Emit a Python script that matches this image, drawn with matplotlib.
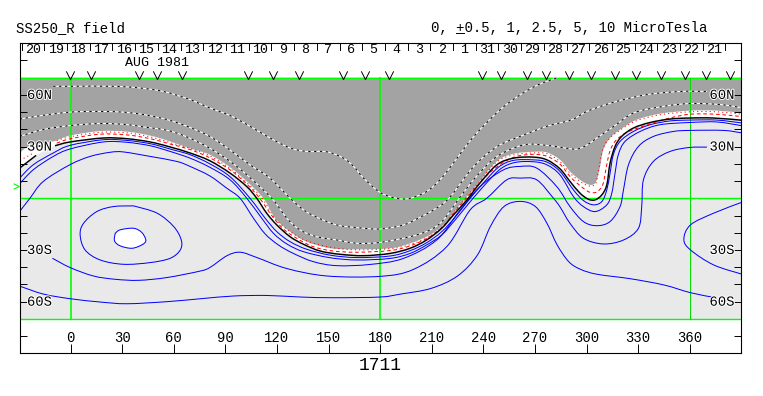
import numpy as np
import matplotlib
matplotlib.use("Agg")
import matplotlib.pyplot as plt
import matplotlib.patheffects as pe
from matplotlib.path import Path
from matplotlib.patches import PathPatch
from matplotlib.lines import Line2D

plt.rcParams['lines.scale_dashes'] = False
nan = float('nan')

# ---- data (longitude, latitude in degrees) ----
title_left = "SS250_R field"
title_right = "0, +0.5, 1, 2.5, 5, 10 MicroTesla"
rotation = "1711"
month = "AUG 1981"

day_labels = ["20","19","18","17","16","15","14","13","12","11","10","9","8","7","6","5",
              "4","3","2","1","31","30","29","28","27","26","25","24","23","22","21"]
day_ticks = [-28.4,-15.2,-2,11.2,24.4,37.6,50.8,64,77.2,90.4,103.6,116.8,130,143.2,156.4,169.6,
             182.8,196,209.2,222.4,235.6,248.8,262,275.2,288.4,301.6,314.8,328,341.2,354.4,367.6,380.8]
lon_ticks = [0,30,60,90,120,150,180,210,240,270,300,330,360]
lat_ticks = [-80,-70,-60,-50,-40,-30,-20,-10,10,20,30,40,50,60,70,80]
lat_labels = {60:"60N", 30:"30N", -30:"30S", -60:"60S"}
sat_lons = [-0.1,11.7,39.7,50.5,64.7,103.4,117.9,132.7,158.6,171,185.3,239,250,265.2,276.5,
            290,302.8,316.7,328.6,343.2,357.3,369.3,383.4]
tilt_lat = 6.9

# gray-region edge
g_lon = [-29.6,-23.6,-10,-0.3,17.2,32.7,46.3,57.9,69.5,81,92.8,102.5,112.2,119,127.7,137.4,151,166.5,186,197.4,209,217.8,225.5,236.2,247.8,257.5,269.2,277,284.7,291.4,300,305,307.5,309.8,313.7,319.5,329.2,342.8,360.3,375.8,390.5]
g_lat = [26.3,30.5,33,36.4,39,38.7,36.4,33,29,25.3,18,9.8,0,-11.6,-19.4,-25.2,-29,-29.6,-29,-26.2,-21.3,-14.5,-4.8,7.8,21.4,25.8,27,26.6,22.3,14.6,8.4,8.8,16.5,28.2,35,39.8,45.6,49.1,50.9,50.9,49.5]

# neutral line
k_lon = [-29.6,-20,nan,-9,-0.3,19.1,32.7,46.3,57.9,69.5,81,92.8,102.5,108.3,114.1,120,127.7,135.5,145.2,156.8,170.4,185.7,197.4,207,215.8,222.6,230.4,238,247.8,257.5,269,277,284.6,290.4,296.2,301,305,308.9,311.8,313.7,316.6,320.5,327.3,337,348.6,360.3,373.8,390.5]
k_lat = [17.5,24.9,nan,30.5,32.7,35,34.6,32.7,29.8,26.3,21.8,14.6,6.8,0,-8.7,-15.5,-22.3,-26.7,-30.6,-32.5,-33.3,-32,-29,-24.2,-17.4,-9.7,-1,8.8,19.4,23.3,23.9,22.3,17.1,9.8,3,-0.5,-0.9,2,7.8,20.4,30.1,36,40.8,44,46,46.6,46.6,45.3]

# red contours
rd_lon = [-8,-0.3,17,32.7,46.3,57.9,69.5,81,92.8,102.5,110,117,124,132,141,152,166,186,197.4,208,216.8,224,233,243,252,260,269,277,284.6,291,298,302,306,309.5,311.5,313.5,317,324,335,348,360.3,375,390.5]
rd_lat = [32,34.5,37.2,36.8,34.6,31.5,28.3,23.5,16.5,8.3,0,-10,-18,-23.5,-28,-30.5,-31.3,-30.3,-27.6,-22.8,-16,-7.3,3.5,14.2,21,24.5,25.5,24.4,19.8,12,6,3.5,3.7,8,18,27,33.5,38.5,42.5,46.5,48.8,48.8,47.4]
rp_lon = [-29.4,-21,nan,-8,-0.3,17.2,32.7,46.3,57.9,69.5,81,92.8,102.5,111.5,118.5,127,137,151,166,186,197.4,209,217.5,225,235.7,247.3,257.5,269,277,284.6,291,299.5,305,307,309.2,313,319,329,342.8,360.3,375.8,390.5]
rp_lat = [22,26.5,nan,33.5,35.7,38.3,38,35.7,32.3,29,24.6,17.3,9,0,-11.2,-18.8,-24.6,-28.4,-29.9,-29.2,-26.9,-22,-15.2,-5.4,7.2,20.7,25.2,26.3,25.9,21.3,14,7.8,8,16,27.6,34.4,39.2,45,48.5,50.2,50.2,48.8]

# dotted contours over the gray region
d1_lon = [-10,0,25,40.5,54,69.5,81,92.8,104.4,116,127.7,137.4,149,158.7,164.6,170.4,180,189.6,197.4,207,214.8,222.6,230.4,238,250,259.7,271,283]
d1_lat = [65,65,65,64,62,57.3,52.4,48,41.8,35,29.2,27.2,27,23.3,18.5,11.7,3.4,0,0,3.9,10.7,20.4,31,39.8,51.6,58.9,65.5,70]
d2_lon = [-29.4,-15.8,-0.3,13.4,29,42.5,56,67.7,81,92.8,104.4,116,127.7,135.5,143.2,154.9,166.5,180,193.5,203.2,211,220,234.5,248,261.6,277,291.7,300.4,316,335.3,354.7,370]
d2_lat = [46,48.2,50,50.4,50.1,48.6,45.7,41.8,35.9,28,19.4,11.7,0,-6.7,-11,-15.5,-17,-17.8,-15.5,-11,-6.8,0,18.5,30,36,41.8,45.7,50.5,55.8,60.2,62,62]
d3_lon = [-29.4,-15.8,-0.3,17.2,32.7,42.5,56,67.7,81,92.8,102.5,117,125.8,133.5,143.2,154.9,166.5,180,197.4,209,216.8,226,236,248,263.5,277,288.8,294.7,300.4,306,316,327.6,345,360.5,378,390.6]
d3_lat = [36,39.9,42.2,43.4,42.8,41.4,39.5,35.6,29.1,21.4,13.6,0,-11.6,-18.4,-22.3,-24.2,-26.1,-25.6,-22.3,-18.4,-12.6,0,12.7,24.3,31,30.7,29,28.6,31,35,41.8,49.6,53.4,55,54.4,52.5]

# blue contours
a_lon = [-29.6,-21.6,-10,-0.3,19.1,32.7,46.3,57.9,69.5,81,92.8,104.4,113.2,120,127.7,137.4,151,166.5,185.7,197.4,207,215.8,223.6,231.3,239.1,248.8,257.5,269.2,277,284.6,292.4,298.2,304,308.9,311.8,313.7,315.6,319.5,327.3,337,348.6,360.3,375.8,390.5]
a_lat = [11.7,19.5,26.3,30.7,34,33.6,31.7,28.6,25.3,20,12.5,0,-11.6,-19.4,-25.2,-29.6,-33,-34.4,-33.5,-30.4,-25.8,-19.4,-11,-1.3,7.8,18,22,22.3,21,15.6,4.9,-1.3,-3.8,-1.9,4.9,14.6,25.3,33,38.8,42.7,44.9,45.4,45.4,43.7]
b_lon = [-29.6,-21.6,-10,-0.3,19.1,32.7,46.3,57.9,69.5,81,92.8,102.5,111.2,118,125.8,135.5,151,166.5,185.7,197.4,207,215.8,223.6,231.3,240,249.8,258.5,269.2,277,284.6,292.4,298.2,305,311.8,314.7,316.6,318.5,322.4,331.2,342.8,360.3,375.8,390.5]
b_lat = [8.4,16.6,24.3,28.6,32.7,32.5,30.5,27.2,23.3,18,10.7,0,-11.6,-20.3,-26.5,-31,-34.5,-35.8,-34.9,-32,-27.1,-21.3,-12.6,-3.3,6.8,16.9,20.8,21.2,19.4,13.6,1,-4.8,-7.7,-3.8,3,14.6,25.3,33,38.8,42.7,44,44.3,42.1]
c_lon = [-29.6,-23.6,-15.8,-0.3,11.4,23,30.8,46.3,61.8,69.5,81,90.8,98.6,106.4,113.2,120.9,129.6,141.3,154.9,174,193.5,212.9,226.5,238.1,251.7,261.4,271.1,282.7,290.4,298.2,306,313.7,319.5,321.5,324.4,330.2,338.9,350.6,360.3,379.7,390.5]
c_lat = [-7.7,0,9.8,19.5,24.3,26.7,26.9,24.3,21.4,18.5,13,5.9,0,-11.6,-20.7,-27.1,-32,-36.8,-39.1,-38.4,-34.9,-24.2,-6.8,6.8,16.5,18.5,17.5,6.8,-4.8,-13.5,-15.9,-13.5,-4.8,4.9,19.4,30.1,35.9,38.8,39.4,39.4,37.9]
d_lon = [-10.5,0,13.4,26,39.6,56,75.5,81.3,91,98.7,108.4,125.9,149.2,180,199.3,218.7,232.3,242,253.6,261.4,271.1,280.8,284.6,290.4,298.2,309.8,321.5,330.2,332.1,333.1,338.9,348.6,359.9,370]
d_lat = [-34.8,-40.3,-45.1,-47,-47.6,-46,-42.2,-40,-33.3,-31.3,-34.4,-40.8,-45.1,-45.3,-41.3,-28.1,-6.8,0,10.7,11.7,10.7,0,-5,-14.5,-23.2,-26.5,-24.2,-17.4,-4.8,10.7,21.4,27.2,29.5,29.7]
e_lon = [-29.7,-15.7,0,17.3,32.8,56,75.5,94.9,114.3,133.7,153,180,191.8,209.6,225,236.6,244.1,252,261.6,270.3,277,282.9,289.7,296.5,306.2,325.6,345,360.5,374]
e_lat = [-50.9,-55.6,-58.3,-60.2,-61.2,-60,-58.3,-56.7,-56.4,-57.3,-57.7,-57.3,-55.6,-52.3,-45.1,-32.9,-16.4,-4.8,-1.8,-4.8,-14.5,-27,-36.8,-41.2,-44.1,-46.7,-50.3,-54.8,-57.5]
loop_lon = [36.7,25,15.3,7.6,5.6,8.5,17.3,30.8,46.4,58,63.8,64.4,60,50.3,36.7]
loop_lat = [-4.4,-4.8,-7.7,-14.5,-21.2,-30,-35.8,-38.3,-37.3,-34.8,-30,-24.2,-16.4,-8.6,-4.4]
core_lon = [26,28.9,36.7,41.5,43.8,41.5,35.7,28.9,25.6,26]
core_lat = [-20.3,-18.3,-17.4,-19.9,-24.5,-27,-29,-27.6,-24.7,-20.3]
rl_lon = [390.6,374,360.5,356.6,360.5,374,390.6]
rl_lat = [-2.2,-8.6,-15.4,-23.8,-30,-38.7,-44.1]

GREEN = "#00FF00"
MONO = "Liberation Mono"
W, H = 763, 396
fig = plt.figure(figsize=(W/100, H/100), dpi=100, facecolor="white")
L, R, T, B = 19.5, 741, 43, 353
ax = fig.add_axes([L/W, 1-B/H, (R-L)/W, (B-T)/H], facecolor="white")
ax.set_xlim((L-70.5)/1.72, (R-70.5)/1.72)
ax.set_ylim((198.3-B)/1.723, (198.3-T)/1.723)
xlo, xhi = ax.get_xlim()


def smooth_path(xs, ys, close=None):
    """Bezier path running through every read point (splits at nan)."""
    verts, codes = [], []
    segs, cur = [], []
    for x, y in zip(xs, ys):
        if x != x:
            if cur:
                segs.append(cur)
            cur = []
        else:
            cur.append((x, y))
    if cur:
        segs.append(cur)
    for s in segs:
        p = np.array(s, float)
        n = len(p)
        verts.append(p[0]); codes.append(Path.MOVETO)
        for i in range(n - 1):
            p0 = p[i - 1] if i > 0 else p[i]
            p3 = p[i + 2] if i + 2 < n else p[i + 1]
            c1 = p[i] + (p[i + 1] - p0) / 6
            c2 = p[i + 1] - (p3 - p[i]) / 6
            verts += [c1, c2, p[i + 1]]
            codes += [Path.CURVE4] * 3
    if close is not None:
        for c in close:
            verts.append(np.array(c, float)); codes.append(Path.LINETO)
        verts.append(verts[0]); codes.append(Path.CLOSEPOLY)
    return Path(np.array(verts), codes)


def curve(xs, ys, color, lw=0.72, z=3, ls="-"):
    patch = PathPatch(smooth_path(xs, ys), fill=False, edgecolor=color, lw=lw, zorder=z,
                      linestyle=ls, antialiased=True, capstyle="butt")
    ax.add_patch(patch)
    patch.set_clip_path(ax.patch)


# fills
ax.fill([xlo, xhi, xhi, xlo], [-70, -70, 70, 70], color="#E9E9E9", lw=0, zorder=1)
k_x = [x for x in k_lon if x == x]
k_y = [y for y in k_lat if y == y]
ax.add_patch(PathPatch(smooth_path(k_x, k_y, close=[(xhi, 70), (xlo, 70)]), facecolor="white", edgecolor="none", lw=0, zorder=1.1))
ax.add_patch(PathPatch(smooth_path(g_lon, g_lat, close=[(xhi, 70), (xlo, 70)]), facecolor="#A3A3A3", edgecolor="none", lw=0, zorder=1.2))
ax.add_patch(PathPatch(smooth_path(core_lon, core_lat, close=[]), facecolor="white", edgecolor="none", lw=0, zorder=1.3))

# green grid
for y in [-70, 0, 70]:
    ax.plot([xlo, xhi], [y, y], color=GREEN, lw=1.0, zorder=2)
for x, lw, c in [(0, 1.2, GREEN), (180, 1.2, GREEN), (360, 0.72, "#00E000")]:
    ax.plot([x, x], [-70, 70], color=c, lw=lw, zorder=2)

# blue lines
for xs, ys in [(a_lon, a_lat), (b_lon, b_lat), (c_lon, c_lat), (d_lon, d_lat), (e_lon, e_lat),
               (loop_lon, loop_lat), (core_lon, core_lat), (rl_lon, rl_lat)]:
    curve(xs, ys, "#0000FF")

# dotted white/black lines
for xs, ys in [(d1_lon, d1_lat), (d2_lon, d2_lat), (d3_lon, d3_lat)]:
    curve(xs, ys, "white", z=3, lw=0.72)
    curve(xs, ys, "black", z=3.1, ls=(0, (1.6, 2.6)), lw=0.72)

# red lines
curve(rd_lon, rd_lat, "#FF0000", z=3.2, ls=(0, (2.6, 2)))
curve(rp_lon, rp_lat, "#FF0000", z=3.2, ls=(0, (0.8, 2.2)))
# neutral line
curve(k_lon, k_lat, "black", lw=1.05, z=3.4)

# frame and ticks
for s in ax.spines.values():
    s.set_linewidth(0.8)
    s.set_zorder(6)
ax.set_xticks(lon_ticks)
ax.set_xticklabels([])
ax.set_yticks(lat_ticks)
ax.set_yticklabels([])
ax.tick_params(axis="x", direction="in", length=6.5, width=0.7, bottom=True, top=False)
ax.tick_params(axis="y", direction="in", length=5, width=0.7, left=True, right=True)
for t in ax.yaxis.get_major_ticks() + ax.xaxis.get_major_ticks():
    t.tick1line.set_zorder(5)
    t.tick2line.set_zorder(5)

for x in day_ticks:
    ax.plot([x, x], [90.1, 86.3], color="black", lw=0.7, zorder=5, clip_on=False)
for i, lab in enumerate(day_labels):
    ax.text((day_ticks[i]+day_ticks[i+1])/2, 85.9, lab, ha="center", va="center", family=MONO, fontsize=9.6, zorder=7)

# satellite marks
v = Path([(-1, 1), (0, -1), (1, 1)], [Path.MOVETO, Path.LINETO, Path.LINETO])
ax.plot(sat_lons, [71.5]*len(sat_lons), linestyle="none", marker=v, ms=6, mfc="none", mec="black", mew=0.7, zorder=5, clip_on=False)
gt = Path([(-1, 1), (1, 0), (-1, -1)], [Path.MOVETO, Path.LINETO, Path.LINETO])
ax.plot([-31.4], [tilt_lat], linestyle="none", marker=gt, ms=4, mfc="none", mec=GREEN, mew=0.8, zorder=5, clip_on=False)

# axis labels
stroke = [pe.withStroke(linewidth=1.4, foreground="white")]
for x in lon_ticks:
    ax.text(x, -81.2, str(x), ha="center", va="center", family=MONO, fontsize=10, zorder=7)
for lat, lab in lat_labels.items():
    ax.text(-18.0, lat, lab, ha="center", va="center", family=MONO, fontsize=10, zorder=7, path_effects=stroke)
    ax.text(378.8, lat, lab, ha="center", va="center", family=MONO, fontsize=10, zorder=7, path_effects=stroke)

# titles
fig.text(16/W, 1-28/H, title_left, ha="left", va="center", family=MONO, fontsize=10.1)
fig.text(431/W, 1-28/H, title_right, ha="left", va="center", family=MONO, fontsize=10.1)
fig.add_artist(Line2D([456/W, 464/W], [1-33/H, 1-33/H], color="black", lw=0.7))
fig.text(157/W, 1-62.5/H, month, ha="center", va="center", family=MONO, fontsize=9.6)
fig.text(380/W, 1-366/H, rotation, ha="center", va="center", family=MONO, fontsize=13)

fig.savefig("out.png", dpi=100, facecolor="white")
